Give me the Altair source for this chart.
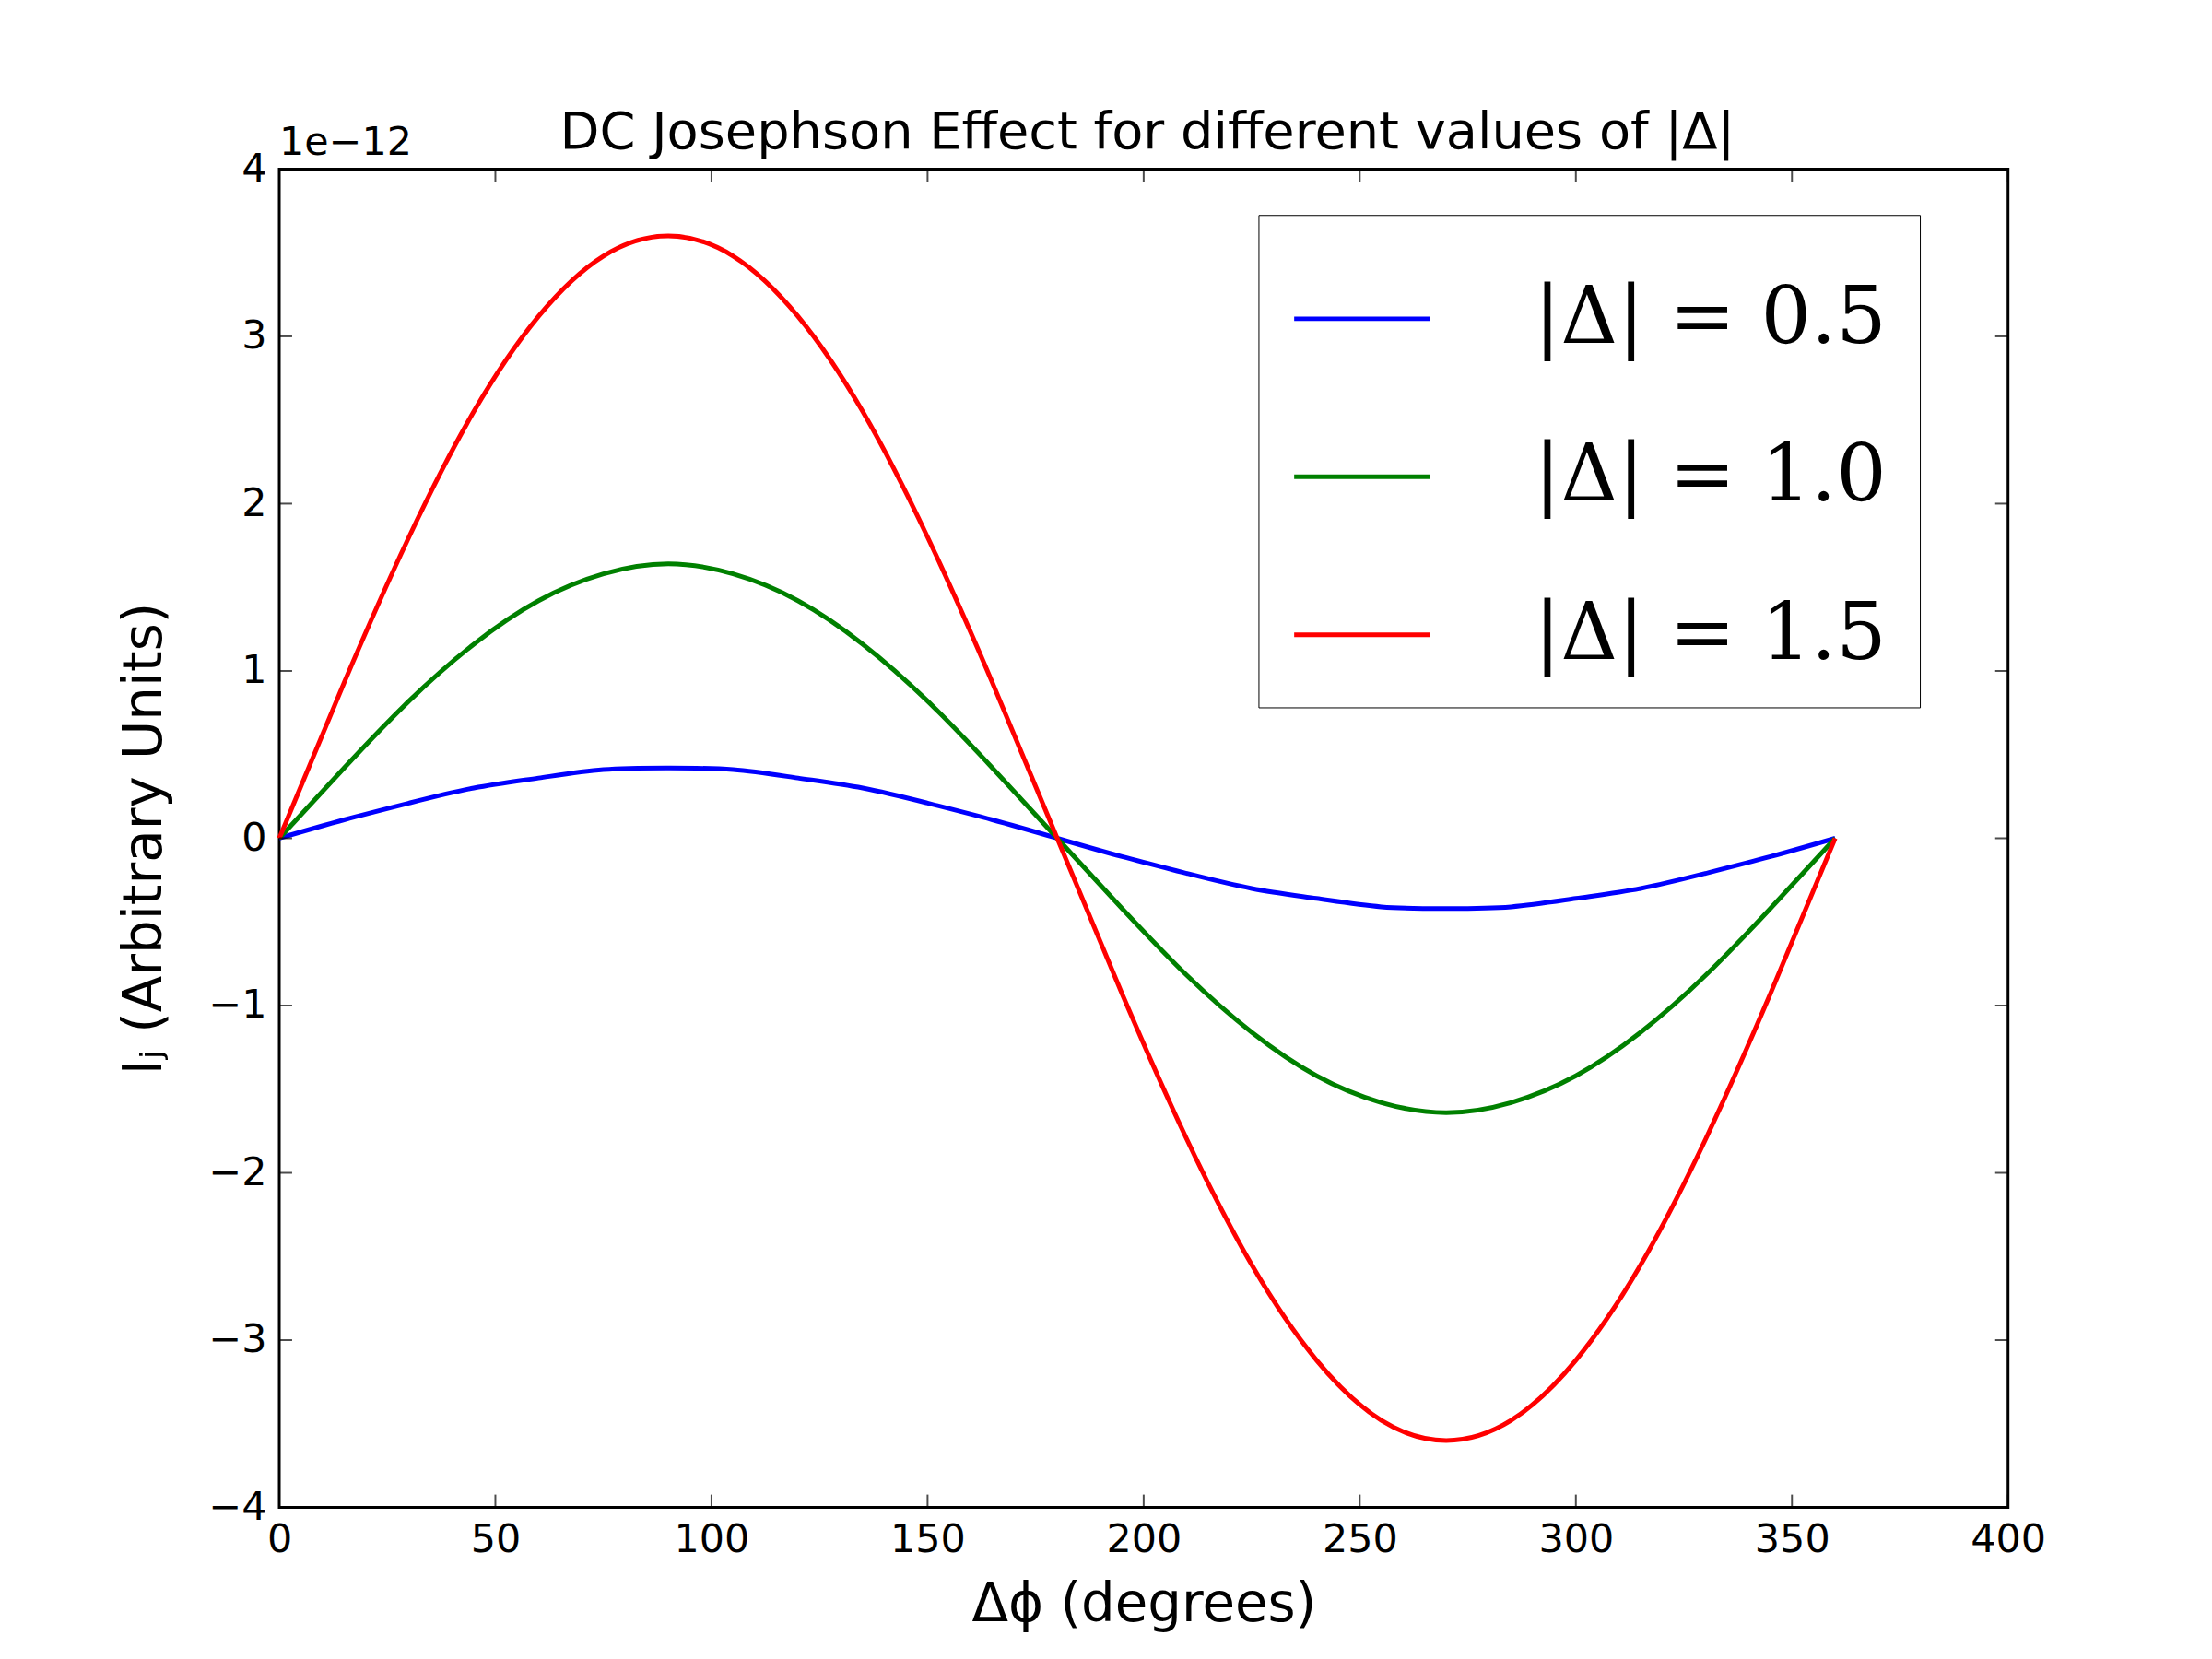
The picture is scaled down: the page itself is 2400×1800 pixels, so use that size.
import pandas as pd
import altair as alt

phase = [0, 15, 30, 45, 60, 75, 90, 105, 120, 135, 150, 165, 180,
         195, 210, 225, 240, 255, 270, 285, 300, 315, 330, 345, 360]
ij_05 = [0.0, 0.11, 0.21, 0.30, 0.36, 0.41, 0.42, 0.41, 0.36, 0.30, 0.21, 0.11, 0.0,
         -0.11, -0.21, -0.30, -0.36, -0.41, -0.42, -0.41, -0.36, -0.30, -0.21, -0.11, 0.0]
ij_10 = [0.0, 0.42, 0.82, 1.16, 1.42, 1.58, 1.64, 1.58, 1.42, 1.16, 0.82, 0.42, 0.0,
         -0.42, -0.82, -1.16, -1.42, -1.58, -1.64, -1.58, -1.42, -1.16, -0.82, -0.42, 0.0]
ij_15 = [0.0, 0.93, 1.80, 2.55, 3.12, 3.48, 3.60, 3.48, 3.12, 2.55, 1.80, 0.93, 0.0,
         -0.93, -1.80, -2.55, -3.12, -3.48, -3.60, -3.48, -3.12, -2.55, -1.80, -0.93, 0.0]
labels = ["|Δ| = 0.5", "|Δ| = 1.0", "|Δ| = 1.5"]
colors = ["#0000ff", "#008000", "#ff0000"]
x_ticks = [0, 50, 100, 150, 200, 250, 300, 350, 400]
y_ticks = [-4, -3, -2, -1, 0, 1, 2, 3, 4]

rows = []
for lab, ys in zip(labels, [ij_05, ij_10, ij_15]):
    for p, v in zip(phase, ys):
        rows.append({"phase": p, "ij": v, "series": lab})
df = pd.DataFrame(rows)

W, H = 1882, 1457
FONT = "DejaVu Sans"

lines = alt.Chart(df).mark_line(strokeWidth=5, interpolate="natural").encode(
    x=alt.X("phase:Q", scale=alt.Scale(domain=[0, 400], nice=False),
            axis=alt.Axis(values=x_ticks, title="Δϕ (degrees)", grid=False, ticks=False,
                          labelPadding=14, domain=False, labelFlush=False)),
    y=alt.Y("ij:Q", scale=alt.Scale(domain=[-4, 4], nice=False),
            axis=alt.Axis(values=y_ticks, title="Iⱼ (Arbitrary Units)", grid=False, ticks=False,
                          labelPadding=14, domain=False, format="d", labelFlush=False)),
    color=alt.Color("series:N", scale=alt.Scale(domain=labels, range=colors),
                    legend=alt.Legend(title=None, orient="none", legendX=1066, legendY=50,
                                      symbolType="stroke", symbolSize=22000, symbolStrokeWidth=5,
                                      labelFont="DejaVu Serif", labelFontSize=86,
                                      labelLimit=800, labelOffset=110,
                                      rowPadding=52, padding=36,
                                      strokeColor="black", fillColor="white")),
)

xt = pd.DataFrame({"v": x_ticks})
yt = pd.DataFrame({"v": y_ticks})
tx = alt.Chart(xt).mark_tick(color="black", thickness=2, size=14)
ty = alt.Chart(yt).mark_tick(color="black", thickness=2, size=14)
ticks = [
    tx.encode(x="v:Q", y=alt.value(H - 7)),
    tx.encode(x="v:Q", y=alt.value(7)),
    ty.encode(y="v:Q", x=alt.value(7)),
    ty.encode(y="v:Q", x=alt.value(W - 7)),
]

offset = alt.Chart(pd.DataFrame({"t": ["1e−12"]})).mark_text(
    align="left", baseline="bottom", fontSize=43, font=FONT, dy=-6
).encode(text="t:N", x=alt.value(0), y=alt.value(0))

title = alt.Chart(pd.DataFrame({"t": ["DC Josephson Effect for different values of |Δ|"]})).mark_text(
    align="center", baseline="bottom", fontSize=56, font=FONT, dy=-10
).encode(text="t:N", x=alt.value(W / 2 + 4), y=alt.value(0))

chart = alt.layer(lines, *ticks, offset, title).properties(
    width=W, height=H,
    autosize=alt.AutoSizeParams(type="none"),
    padding={"left": 296, "top": 173, "right": 214, "bottom": 162},
).configure_view(stroke="black", strokeWidth=3).configure_axis(
    labelFont=FONT, labelFontSize=43, titleFont=FONT, titleFontSize=58,
    titleFontWeight="normal", labelColor="black", titleColor="black",
).configure_axisY(titlePadding=40).configure_axisX(titlePadding=20)

chart.save("out.html", embed_options={"renderer": "svg", "actions": False})
